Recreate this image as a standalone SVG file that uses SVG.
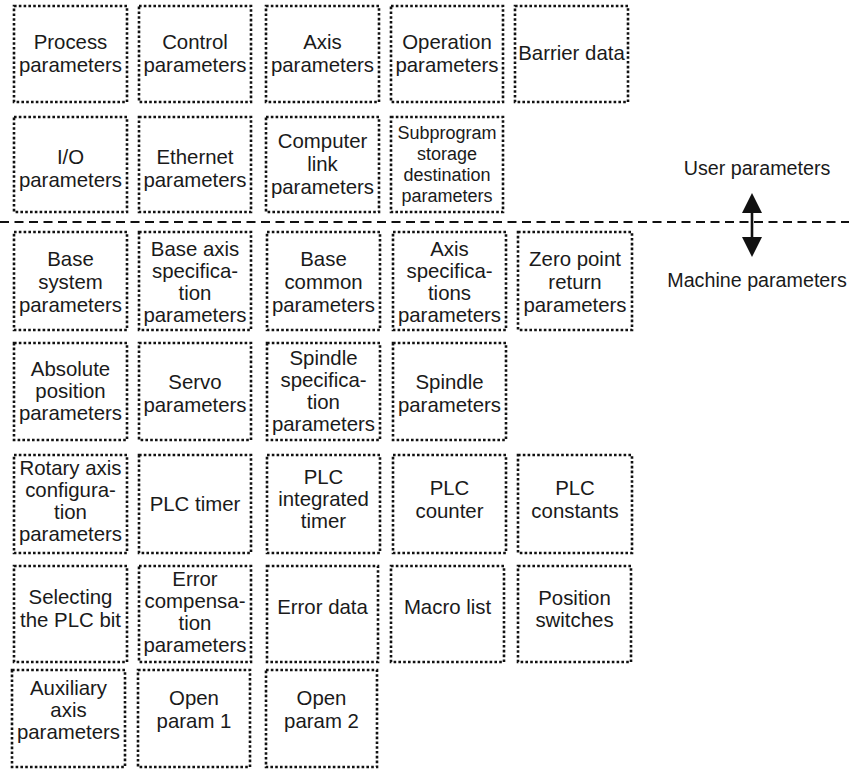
<svg xmlns="http://www.w3.org/2000/svg" width="849" height="770" viewBox="0 0 849 770">
<style>
.b{fill:none;stroke:#111;stroke-width:2.6;stroke-dasharray:2.6 2.2}
.t{font-family:"Liberation Sans",Arial,sans-serif;font-size:20.4px;fill:#1a1a1a;text-anchor:middle}
.s{font-size:18px}
.lbl{font-family:"Liberation Sans",Arial,sans-serif;font-size:19.7px;fill:#1a1a1a;text-anchor:middle}
</style>
<rect width="849" height="770" fill="#fff"/>

<g id="process"><rect class="b" x="14" y="6" width="113" height="96"/><text class="t" x="70.5" y="48.5">Process</text><text class="t" x="70.5" y="71.5">parameters</text></g>
<g id="control"><rect class="b" x="139" y="6" width="112" height="96"/><text class="t" x="195" y="48.5">Control</text><text class="t" x="195" y="71.5">parameters</text></g>
<g id="axis"><rect class="b" x="266" y="6" width="113" height="96"/><text class="t" x="322.5" y="48.5">Axis</text><text class="t" x="322.5" y="71.5">parameters</text></g>
<g id="operation"><rect class="b" x="391" y="6" width="112" height="96"/><text class="t" x="447" y="48.5">Operation</text><text class="t" x="447" y="71.5">parameters</text></g>
<g id="barrier"><rect class="b" x="515" y="6" width="113" height="96"/><text class="t" x="571.5" y="60">Barrier data</text></g>

<g id="io"><rect class="b" x="14" y="117" width="113" height="95"/><text class="t" x="70.5" y="164">I/O</text><text class="t" x="70.5" y="187">parameters</text></g>
<g id="ethernet"><rect class="b" x="139" y="117" width="112" height="95"/><text class="t" x="195" y="164">Ethernet</text><text class="t" x="195" y="187">parameters</text></g>
<g id="computer-link"><rect class="b" x="266" y="117" width="113" height="95"/><text class="t" x="322.5" y="148">Computer</text><text class="t" x="322.5" y="171">link</text><text class="t" x="322.5" y="194">parameters</text></g>
<g id="subprogram"><rect class="b" x="391" y="117" width="112" height="95"/><text class="t s" x="447" y="139">Subprogram</text><text class="t s" x="447" y="160">storage</text><text class="t s" x="447" y="181">destination</text><text class="t s" x="447" y="202">parameters</text></g>

<g id="connectors">
<line x1="0" y1="222" x2="849" y2="222" stroke="#111" stroke-width="2" stroke-dasharray="9 5.5"/>
<line x1="752" y1="212" x2="752" y2="238" stroke="#111" stroke-width="2.6"/>
<path d="M742,213 L752,193 L762,213 Z" fill="#111"/>
<path d="M742,237 L752,257 L762,237 Z" fill="#111"/>
</g>
<g id="user-label"><text class="lbl" x="757" y="175">User parameters</text></g>
<g id="machine-label"><text class="lbl" x="757" y="287">Machine parameters</text></g>

<g id="base-system"><rect class="b" x="14" y="232" width="113" height="98"/><text class="t" x="70.5" y="266">Base</text><text class="t" x="70.5" y="289">system</text><text class="t" x="70.5" y="312">parameters</text></g>
<g id="base-axis-spec"><rect class="b" x="139" y="232" width="112" height="98"/><text class="t" x="195" y="256">Base axis</text><text class="t" x="195" y="278">specifica-</text><text class="t" x="195" y="300">tion</text><text class="t" x="195" y="322">parameters</text></g>
<g id="base-common"><rect class="b" x="267" y="232" width="113" height="98"/><text class="t" x="323.5" y="266">Base</text><text class="t" x="323.5" y="289">common</text><text class="t" x="323.5" y="312">parameters</text></g>
<g id="axis-spec"><rect class="b" x="393" y="232" width="113" height="98"/><text class="t" x="449.5" y="256">Axis</text><text class="t" x="449.5" y="278">specifica-</text><text class="t" x="449.5" y="300">tions</text><text class="t" x="449.5" y="322">parameters</text></g>
<g id="zero-point"><rect class="b" x="518" y="232" width="114" height="98"/><text class="t" x="575" y="266">Zero point</text><text class="t" x="575" y="289">return</text><text class="t" x="575" y="312">parameters</text></g>

<g id="absolute-position"><rect class="b" x="14" y="343" width="113" height="97"/><text class="t" x="70.5" y="376">Absolute</text><text class="t" x="70.5" y="398">position</text><text class="t" x="70.5" y="420">parameters</text></g>
<g id="servo"><rect class="b" x="139" y="343" width="112" height="97"/><text class="t" x="195" y="389">Servo</text><text class="t" x="195" y="412">parameters</text></g>
<g id="spindle-spec"><rect class="b" x="267" y="343" width="113" height="97"/><text class="t" x="323.5" y="365">Spindle</text><text class="t" x="323.5" y="387">specifica-</text><text class="t" x="323.5" y="409">tion</text><text class="t" x="323.5" y="431">parameters</text></g>
<g id="spindle"><rect class="b" x="393" y="343" width="113" height="97"/><text class="t" x="449.5" y="389">Spindle</text><text class="t" x="449.5" y="412">parameters</text></g>

<g id="rotary-axis"><rect class="b" x="14" y="455" width="113" height="98"/><text class="t" x="70.5" y="475">Rotary axis</text><text class="t" x="70.5" y="497">configura-</text><text class="t" x="70.5" y="519">tion</text><text class="t" x="70.5" y="541">parameters</text></g>
<g id="plc-timer"><rect class="b" x="139" y="455" width="112" height="98"/><text class="t" x="195" y="511">PLC timer</text></g>
<g id="plc-integrated-timer"><rect class="b" x="267" y="455" width="113" height="98"/><text class="t" x="323.5" y="484">PLC</text><text class="t" x="323.5" y="506">integrated</text><text class="t" x="323.5" y="528">timer</text></g>
<g id="plc-counter"><rect class="b" x="393" y="455" width="113" height="98"/><text class="t" x="449.5" y="495">PLC</text><text class="t" x="449.5" y="518">counter</text></g>
<g id="plc-constants"><rect class="b" x="518" y="455" width="114" height="98"/><text class="t" x="575" y="495">PLC</text><text class="t" x="575" y="518">constants</text></g>

<g id="selecting-plc-bit"><rect class="b" x="14" y="566" width="113" height="96"/><text class="t" x="70.5" y="604">Selecting</text><text class="t" x="70.5" y="627">the PLC bit</text></g>
<g id="error-compensation"><rect class="b" x="139" y="566" width="112" height="96"/><text class="t" x="195" y="586">Error</text><text class="t" x="195" y="608">compensa-</text><text class="t" x="195" y="630">tion</text><text class="t" x="195" y="652">parameters</text></g>
<g id="error-data"><rect class="b" x="267" y="566" width="111" height="96"/><text class="t" x="322.5" y="614">Error data</text></g>
<g id="macro-list"><rect class="b" x="391" y="566" width="113" height="96"/><text class="t" x="447.5" y="614">Macro list</text></g>
<g id="position-switches"><rect class="b" x="518" y="566" width="113" height="96"/><text class="t" x="574.5" y="605">Position</text><text class="t" x="574.5" y="627">switches</text></g>

<g id="auxiliary-axis"><rect class="b" x="12" y="670" width="113" height="97"/><text class="t" x="68.5" y="695">Auxiliary</text><text class="t" x="68.5" y="717">axis</text><text class="t" x="68.5" y="739">parameters</text></g>
<g id="open-param-1"><rect class="b" x="138" y="670" width="112" height="97"/><text class="t" x="194" y="705">Open</text><text class="t" x="194" y="728">param 1</text></g>
<g id="open-param-2"><rect class="b" x="266" y="670" width="111" height="97"/><text class="t" x="321.5" y="705">Open</text><text class="t" x="321.5" y="728">param 2</text></g>
</svg>
